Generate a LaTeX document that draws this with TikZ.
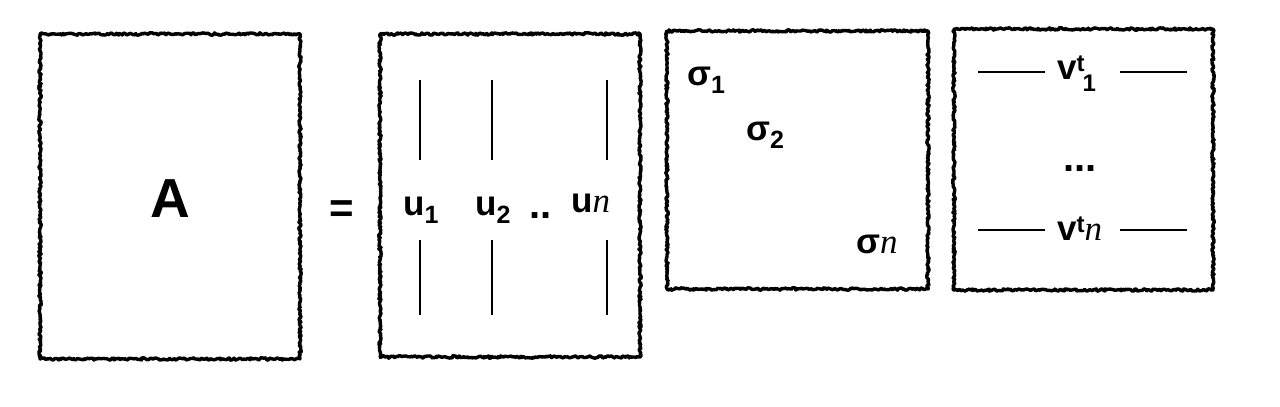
\documentclass[tikz,border=0pt]{standalone}
\usepackage{fontspec}
\setmainfont{Liberation Sans}
\newfontfamily\itserif{Liberation Serif}
\usetikzlibrary{decorations.pathmorphing}
\newcommand{\subsc}[1]{\raisebox{-8pt}{\fontsize{25}{25}\selectfont #1}}
\newcommand{\supsc}[1]{\raisebox{8pt}{\fontsize{24}{24}\selectfont #1}}
\newcommand{\itn}{{\itserif\itshape\mdseries n}}
\tikzset{
  x=1pt, y=-1pt,
  sketch/.style={draw=black, line width=3.4pt, line join=round,
    decorate, decoration={random steps, segment length=1.5pt, amplitude=1.2pt}},
  vline/.style={line width=1.4pt},
  lbl/.style={anchor=base west, inner sep=0pt, font=\bfseries\fontsize{35}{35}\selectfont},
  big/.style={anchor=base, inner sep=0pt, font=\bfseries\fontsize{55}{55}\selectfont},
  dots/.style={anchor=base west, inner sep=0pt, font=\bfseries\fontsize{40}{40}\selectfont},
}
\begin{document}
\begin{tikzpicture}
\pgfmathsetseed{7}
\useasboundingbox (0,0) rectangle (1280,407);
% boxes
\draw[sketch] (40,34) rectangle (300,359);
\draw[sketch] (380,34) rectangle (640,357);
\draw[sketch] (667,31) rectangle (928,289);
\draw[sketch] (954,29) rectangle (1213,290);
% A and =
\node[big] (A) at (170,217) {A};
\node[big, font=\bfseries\fontsize{42}{42}\selectfont] (eq) at (342,222) {=};
% U columns
\node[lbl] (u1) at (403,215) {u\subsc{1}};
\node[lbl] (u2) at (475,215) {u\subsc{2}};
\node[dots] (dd) at (529,218) {..};
\node[lbl] (un) at (571,212) {u\itn};
\coordinate (c1t) at (420,80);  \coordinate (c1m) at (420,160);
\coordinate (c1b) at (420,240); \coordinate (c1e) at (420,315);
\coordinate (c2t) at (492,80);  \coordinate (c2m) at (492,160);
\coordinate (c2b) at (492,240); \coordinate (c2e) at (492,315);
\coordinate (c3t) at (607,80);  \coordinate (c3m) at (607,160);
\coordinate (c3b) at (607,240); \coordinate (c3e) at (607,315);
\draw[vline] (c1t) -- (c1m) (c1b) -- (c1e);
\draw[vline] (c2t) -- (c2m) (c2b) -- (c2e);
\draw[vline] (c3t) -- (c3m) (c3b) -- (c3e);
% Sigma
\node[lbl] (s1) at (687,85) {σ\subsc{1}};
\node[lbl] (s2) at (746,140) {σ\subsc{2}};
\node[lbl] (sn) at (856,253) {σ\itn};
% V rows
\node[lbl] (v1) at (1057,79) {v\supsc{t}\hspace{-2pt}\raisebox{-12pt}{\fontsize{24}{24}\selectfont 1}};
\node[dots] (vd) at (1063,171) {...};
\node[lbl] (vn) at (1057,240) {v\supsc{t}\itn};
\coordinate (l1a) at (978,72);  \coordinate (l1b) at (1045,72);
\coordinate (r1a) at (1120,72); \coordinate (r1b) at (1187,72);
\coordinate (l2a) at (978,230); \coordinate (l2b) at (1045,230);
\coordinate (r2a) at (1120,230); \coordinate (r2b) at (1187,230);
\draw[vline] (l1a) -- (l1b) (r1a) -- (r1b);
\draw[vline] (l2a) -- (l2b) (r2a) -- (r2b);
\end{tikzpicture}
\end{document}
